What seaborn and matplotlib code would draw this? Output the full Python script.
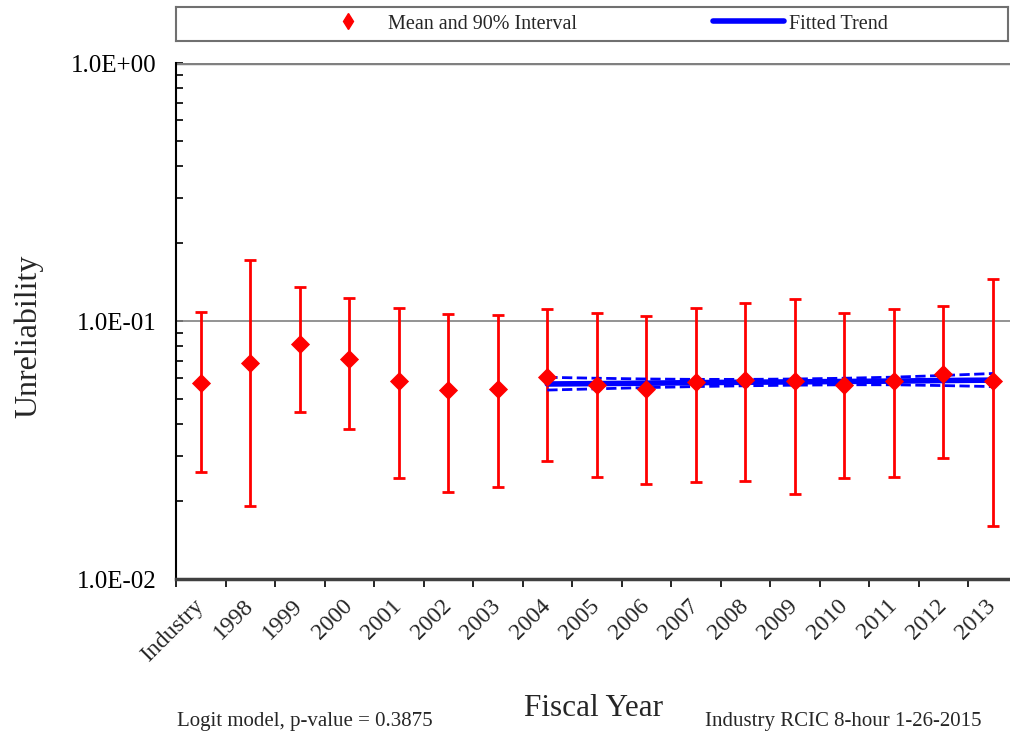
import numpy as np
import pandas as pd
import matplotlib
matplotlib.use('Agg')
import matplotlib.pyplot as plt
import matplotlib.ticker as mticker
from matplotlib.lines import Line2D
import seaborn as sns

# data
categories = ['Industry', '1998', '1999', '2000', '2001', '2002', '2003', '2004', '2005',
              '2006', '2007', '2008', '2009', '2010', '2011', '2012', '2013']
mean_vals = [0.0573, 0.0689, 0.0814, 0.0712, 0.0585, 0.0540, 0.0545, 0.0607, 0.0563,
             0.0546, 0.0582, 0.0592, 0.0587, 0.0563, 0.0584, 0.0621, 0.0585]
lower_vals = [0.0259, 0.0192, 0.0444, 0.0382, 0.0246, 0.0218, 0.0228, 0.0286, 0.0248,
              0.0234, 0.0238, 0.0240, 0.0214, 0.0246, 0.0249, 0.0294, 0.0161]
upper_vals = [0.1087, 0.1723, 0.1355, 0.1225, 0.1123, 0.1064, 0.1058, 0.1113, 0.1074,
              0.1049, 0.1126, 0.1177, 0.1214, 0.1074, 0.1110, 0.1143, 0.1459]

trend_years = ['2004', '2005', '2006', '2007', '2008', '2009', '2010', '2011', '2012', '2013']
trend_fit = [0.0570, 0.0572, 0.0574, 0.0577, 0.0579, 0.0581, 0.0583, 0.0585, 0.0588, 0.0590]
trend_lo = [0.0540, 0.0546, 0.0552, 0.0557, 0.0561, 0.0564, 0.0566, 0.0566, 0.0562, 0.0557]
trend_hi = [0.0605, 0.0600, 0.0596, 0.0594, 0.0594, 0.0596, 0.0600, 0.0606, 0.0615, 0.0626]

df = pd.DataFrame({'cat': categories, 'mean': mean_vals, 'lo': lower_vals, 'hi': upper_vals})
df['pos'] = np.arange(len(df))
tr = pd.DataFrame({'cat': trend_years, 'fit': trend_fit, 'lo': trend_lo, 'hi': trend_hi})
tr['pos'] = [categories.index(c) for c in trend_years]

sns.set_style('ticks')
plt.rcParams['font.family'] = ['Liberation Serif', 'DejaVu Serif']

fig = plt.figure(figsize=(10.1, 7.36), dpi=100)
ax = fig.add_axes([0.1743, 0.2133, 0.8332, 0.7011])

# gridlines at decades
for yv, lw in [(0.1, 1.2), (1.0, 2.5)]:
    ax.axhline(yv, color='#808080', lw=lw, zorder=1)

ax.errorbar(df['pos'], df['mean'], yerr=[df['mean'] - df['lo'], df['hi'] - df['mean']],
            fmt='none', ecolor='red', elinewidth=2.0, capsize=4.5, capthick=2.0, zorder=2)

sns.lineplot(data=tr, x='pos', y='fit', color='blue', lw=4, ax=ax, zorder=3)
sns.lineplot(data=tr, x='pos', y='lo', color='blue', lw=2.0, linestyle='--', ax=ax, zorder=3)
sns.lineplot(data=tr, x='pos', y='hi', color='blue', lw=2.0, linestyle='--', ax=ax, zorder=3)

sns.scatterplot(data=df, x='pos', y='mean', marker='D', s=95, color='red',
                edgecolor='red', linewidth=0, ax=ax, zorder=4)

ax.set_yscale('log')
ax.set_ylim(0.01, 1.0)
ax.set_xlim(-0.5, len(categories) - 0.5)

ax.yaxis.set_major_locator(mticker.FixedLocator([0.01, 0.1, 1.0]))
ax.yaxis.set_major_formatter(mticker.FuncFormatter(lambda v, p: '{:.1E}'.format(v)))
ax.yaxis.set_minor_locator(mticker.LogLocator(base=10, subs=np.arange(2, 10)))
ax.yaxis.set_minor_formatter(mticker.NullFormatter())
ax.tick_params(axis='y', which='both', direction='in', length=5, width=1.2, colors='black',
               labelsize=18, pad=14)

ax.set_xticks(df['pos'])
ax.set_xticklabels(categories, rotation=45, ha='right', va='center', rotation_mode='anchor')
ax.set_xticks(np.arange(-0.5, len(categories), 1.0), minor=True)
ax.tick_params(axis='x', which='major', length=0, labelsize=17, pad=17)
ax.tick_params(axis='x', which='minor', direction='out', length=6, width=1.2, color='black')

ax.set_xlabel('')
ax.set_ylabel('')
for s in ['top', 'right']:
    ax.spines[s].set_visible(False)
ax.spines['left'].set_color('black')
ax.spines['left'].set_linewidth(1.5)
ax.spines['bottom'].set_color('#404040')
ax.spines['bottom'].set_linewidth(2.5)

fig.text(0.028, 0.543, 'Unreliability', rotation=90, ha='center', va='center', fontsize=23)
fig.text(0.588, 0.037, 'Fiscal Year', ha='center', va='center', fontsize=22.5)
fig.text(0.175, 0.020, 'Logit model, p-value = 0.3875', ha='left', va='center', fontsize=15)
fig.text(0.972, 0.020, 'Industry RCIC 8-hour 1-26-2015', ha='right', va='center', fontsize=15)

# legend box above the plot
lax = fig.add_axes([0.1743, 0.9443, 0.8238, 0.0462])
lax.set_xticks([])
lax.set_yticks([])
for s in lax.spines.values():
    s.set_color('#707070')
    s.set_linewidth(1.5)
handles = [Line2D([], [], color='red', marker='d', linestyle='none', markersize=8),
           Line2D([], [], color='blue', lw=4)]
lax.legend(handles, ['Mean and 90% Interval', 'Fitted Trend'], loc='center',
           bbox_to_anchor=(0.51, 0.5), ncol=2, frameon=False, fontsize=14.5,
           handlelength=3.5, handletextpad=0.25, columnspacing=6.75, borderaxespad=0)

fig.savefig('out.png', dpi=100)
